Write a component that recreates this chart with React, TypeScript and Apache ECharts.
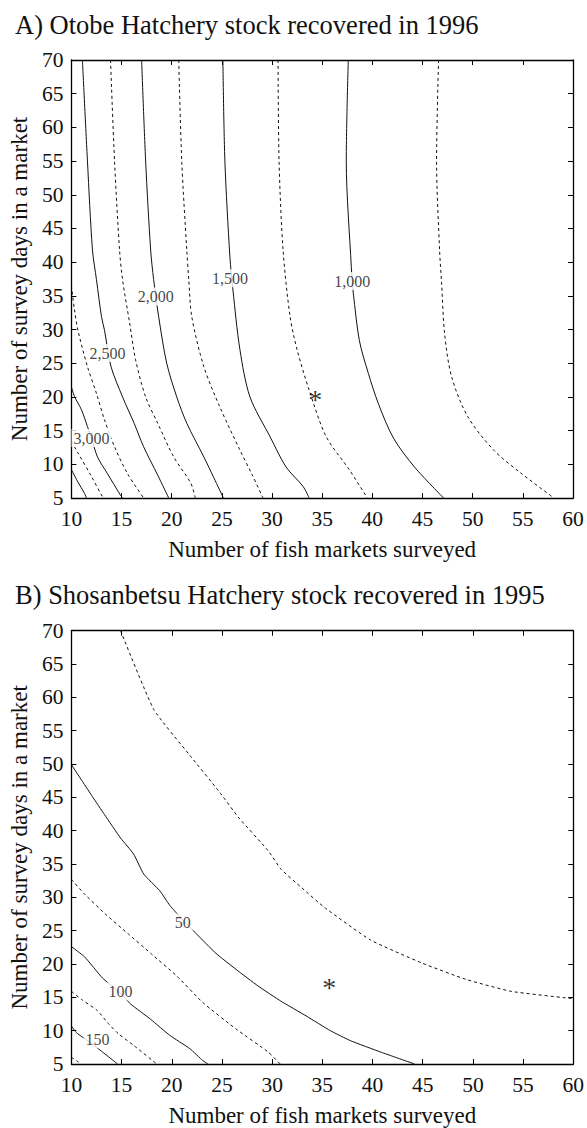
import React, { useEffect, useRef } from "react";
import * as echarts from "echarts";

// ---------- Panel A: Otobe Hatchery stock recovered in 1996 ----------
const titleA = "A) Otobe Hatchery stock recovered in 1996";
const a750: number[][] = [[46.6, 70], [46.4, 55], [46.7, 41.8], [46.9, 36.9], [47.2, 29.4], [47.9, 23.0], [49.5, 17.1], [52.1, 12.1], [54.8, 8.7], [58.1, 5]];
const a1000: number[][] = [[37.6, 70], [37.4, 55], [37.9, 39.3], [38.0, 37.2], [38.1, 35.4], [38.7, 28.4], [39.6, 23.5], [40.6, 19.0], [42.1, 13.9], [44.2, 9.6], [47.1, 5]];
const a1250: number[][] = [[30.6, 70], [30.7, 55], [31.1, 41.8], [31.8, 31.9], [32.5, 27.0], [33.7, 21.0], [35.4, 14.1], [37.7, 9.2], [39.5, 5]];
const a1500: number[][] = [[25.1, 70], [25.3, 55], [25.8, 40.8], [26.1, 35.9], [26.8, 27.0], [27.8, 20.0], [29.8, 14.1], [31.4, 9.6], [33.1, 6.7], [33.7, 5]];
const a1750: number[][] = [[20.7, 70], [21.0, 55], [21.5, 41.8], [21.7, 37.4], [22.0, 31.9], [23.2, 24.5], [24.8, 18.5], [26.8, 12.1], [28.0, 8.5], [29.1, 5]];
const a2000: number[][] = [[17.0, 70], [17.4, 55], [17.9, 41.8], [18.2, 37.4], [18.7, 31.9], [19.5, 25.0], [20.5, 20.0], [21.5, 16.1], [23.2, 11.1], [24.2, 8.0], [25.15, 5]];
const a2250: number[][] = [[13.9, 70], [14.3, 55], [14.8, 41.8], [15.1, 37.4], [15.8, 31.0], [16.4, 25.5], [17.4, 20.0], [18.6, 16.1], [20.2, 11.1], [21.9, 7.2], [22.35, 5]];
const a2500: number[][] = [[11.1, 70], [11.6, 55], [12.1, 41.8], [12.5, 37.4], [13.0, 31.9], [13.3, 29.9], [13.95, 24.5], [15.1, 20.0], [16.25, 16.1], [17.2, 12.6], [18.6, 8.4], [19.7, 5]];
const a2750: number[][] = [[10, 36.5], [10.3, 33.0], [10.65, 29.9], [11.6, 24.5], [12.5, 20.5], [13.3, 16.6], [14.3, 12.6], [15.6, 8.6], [17.2, 5]];
const a3000: number[][] = [[10, 21.5], [10.3, 20.1], [11.0, 18.1], [11.6, 15.6], [12.0, 13.9], [12.6, 11.1], [13.6, 8.6], [14.9, 5.4], [15.1, 5]];
const a3250: number[][] = [[10, 13.4], [10.65, 11.7], [12.0, 8.2], [13.1, 5.2], [13.3, 5]];
const a3500: number[][] = [[10, 9.2], [10.6, 7.5], [11.3, 5.7], [11.5, 5]];
const aLabels: (number | string)[][] = [[38.0, 37.2, "1,000"], [25.8, 37.6, "1,500"], [18.4, 34.9, "2,000"], [13.6, 26.5, "2,500"], [12.0, 13.9, "3,000"]];
const aStar: number[][] = [[34.3, 20.3]];

// ---------- Panel B: Shosanbetsu Hatchery stock recovered in 1995 ----------
const titleB = "B) Shosanbetsu Hatchery stock recovered in 1995";
const b25: number[][] = [[14.9, 70], [18.2, 58.2], [21.8, 51.3], [24.7, 45.9], [26.7, 41.9], [29.6, 37.0], [30.9, 34.2], [32.9, 31.5], [35.2, 28.5], [39.8, 23.6], [45.0, 20.1], [49.3, 17.7], [53.8, 15.9], [60, 14.8]];
const b50: number[][] = [[10, 49.9], [12.1, 45.1], [13.3, 42.4], [14.9, 38.9], [16.2, 36.5], [17.2, 33.5], [18.8, 31.0], [19.8, 28.8], [21.1, 26.6], [22.4, 24.6], [24.4, 21.6], [26.4, 19.2], [28.6, 16.7], [30.9, 14.4], [33.4, 12.2], [35.8, 10.0], [37.8, 8.5], [40.8, 6.8], [44.2, 5]];
const b75: number[][] = [[10, 32.7], [11.3, 30.5], [13.3, 27.6], [15.6, 24.6], [17.9, 21.6], [20.5, 18.2], [23.1, 14.2], [26.4, 10.25], [29.6, 6.8], [30.8, 5]];
const b100: number[][] = [[10, 22.6], [11.3, 21.1], [13.1, 17.9], [14.9, 15.6], [15.9, 14.0], [17.9, 11.7], [19.8, 9.3], [21.8, 7.3], [23.1, 5.5], [23.6, 5]];
const b125: number[][] = [[10, 15.9], [11.0, 14.7], [12.6, 13.0], [13.6, 11.2], [14.7, 9.5], [16.2, 7.8], [18.5, 5]];
const b150: number[][] = [[10, 10.7], [10.5, 9.7], [11.8, 8.3], [13.1, 6.8], [14.6, 5]];
const b175: number[][] = [[10, 6.0], [10.7, 5.3], [11.0, 5]];
const bLabels: (number | string)[][] = [[21.1, 26.2, "50"], [14.9, 15.9, "100"], [12.6, 8.7, "150"]];
const bStar: number[][] = [[35.7, 17.3]];

const xName = "Number of fish markets surveyed";
const yName = "Number of survey days in a market";

const FONT = "Liberation Serif, Times New Roman, serif";

function xAxes(grid: number, name: string) {
  const common = {
    gridIndex: grid,
    type: "value" as const,
    min: 10,
    max: 60,
    interval: 5,
    splitLine: { show: false },
    axisLine: { show: true, onZero: false, lineStyle: { color: "#000", width: 1.3 } },
    axisTick: { show: true, inside: true, length: 5, lineStyle: { color: "#000", width: 1 } },
  };
  return [
    {
      ...common,
      position: "bottom",
      axisLabel: { fontSize: 21.5, lineHeight: 16, color: "#111", fontFamily: FONT, margin: 13 },
      name,
      nameLocation: "middle",
      nameGap: 40,
      nameTextStyle: { fontSize: 23, color: "#111", fontFamily: FONT },
    },
    { ...common, position: "top", axisLabel: { show: false } },
  ];
}

function yAxes(grid: number, name: string) {
  const common = {
    gridIndex: grid,
    type: "value" as const,
    min: 5,
    max: 70,
    interval: 5,
    splitLine: { show: false },
    axisLine: { show: true, onZero: false, lineStyle: { color: "#000", width: 1.3 } },
    axisTick: { show: true, inside: true, length: 5, lineStyle: { color: "#000", width: 1 } },
  };
  return [
    {
      ...common,
      position: "left",
      axisLabel: { fontSize: 21.5, lineHeight: 16, color: "#111", fontFamily: FONT, margin: 8 },
      name,
      nameLocation: "middle",
      nameGap: 40,
      nameRotate: 90,
      nameTextStyle: { fontSize: 23, color: "#111", fontFamily: FONT },
    },
    { ...common, position: "right", axisLabel: { show: false } },
  ];
}

function contour(data: number[][], dashed: boolean, axis: number, smooth: number) {
  return {
    type: "line",
    xAxisIndex: axis,
    yAxisIndex: axis,
    data,
    symbol: "none",
    smooth,
    silent: true,
    lineStyle: { color: "#111", width: 1, type: dashed ? [3, 3] : "solid" },
    z: 2,
  };
}

function labels(data: (number | string)[][], axis: number) {
  return {
    type: "scatter",
    xAxisIndex: axis,
    yAxisIndex: axis,
    data,
    symbolSize: 0.1,
    itemStyle: { color: "transparent" },
    silent: true,
    z: 5,
    label: {
      show: true,
      position: "inside",
      formatter: (p: any) => p.value[2],
      fontSize: 16,
      fontFamily: FONT,
      color: "#111",
      backgroundColor: "#fff",
      padding: [1, 2],
    },
  };
}

function star(data: number[][], axis: number) {
  return {
    type: "scatter",
    xAxisIndex: axis,
    yAxisIndex: axis,
    data,
    symbolSize: 0.1,
    itemStyle: { color: "transparent" },
    silent: true,
    z: 5,
    label: {
      show: true,
      position: "inside",
      formatter: "*",
      fontSize: 28,
      fontFamily: FONT,
      color: "#000",
      offset: [0, 5],
    },
  };
}

export default function App() {
  const ref = useRef<HTMLDivElement>(null);
  useEffect(() => {
    if (!ref.current) return;
    const chart = echarts.init(ref.current, undefined, { renderer: "svg" });
    const sA = 0.3;
    const sB = 0.15;
    chart.setOption({
      animation: false,
      backgroundColor: "#fff",
      textStyle: { fontFamily: FONT },
      title: [
        { text: titleA, left: 15, top: 11, padding: 0, textStyle: { fontSize: 26.5, fontWeight: "normal", color: "#111", fontFamily: FONT } },
        { text: titleB, left: 15, top: 581, padding: 0, textStyle: { fontSize: 26.5, fontWeight: "normal", color: "#111", fontFamily: FONT } },
      ],
      grid: [
        { left: 66.7, top: 60, width: 506.3, height: 438 },
        { left: 66.7, top: 630.7, width: 509.3, height: 438 },
      ],
      xAxis: [...xAxes(0, xName), ...xAxes(1, xName)],
      yAxis: [...yAxes(0, yName), ...yAxes(1, yName)],
      series: [
        contour(a750, true, 0, sA),
        contour(a1000, false, 0, sA),
        contour(a1250, true, 0, sA),
        contour(a1500, false, 0, sA),
        contour(a1750, true, 0, sA),
        contour(a2000, false, 0, sA),
        contour(a2250, true, 0, sA),
        contour(a2500, false, 0, sA),
        contour(a2750, true, 0, sA),
        contour(a3000, false, 0, sA),
        contour(a3250, true, 0, sA),
        contour(a3500, false, 0, sA),
        labels(aLabels, 0),
        star(aStar, 0),
        contour(b25, true, 2, sB),
        contour(b50, false, 2, sB),
        contour(b75, true, 2, sB),
        contour(b100, false, 2, sB),
        contour(b125, true, 2, sB),
        contour(b150, false, 2, sB),
        contour(b175, true, 2, sB),
        labels(bLabels, 2),
        star(bStar, 2),
      ],
    });
    return () => chart.dispose();
  }, []);
  return <div ref={ref} style={{ position: "absolute", left: 0, top: 0, width: 587, height: 1128 }} />;
}
